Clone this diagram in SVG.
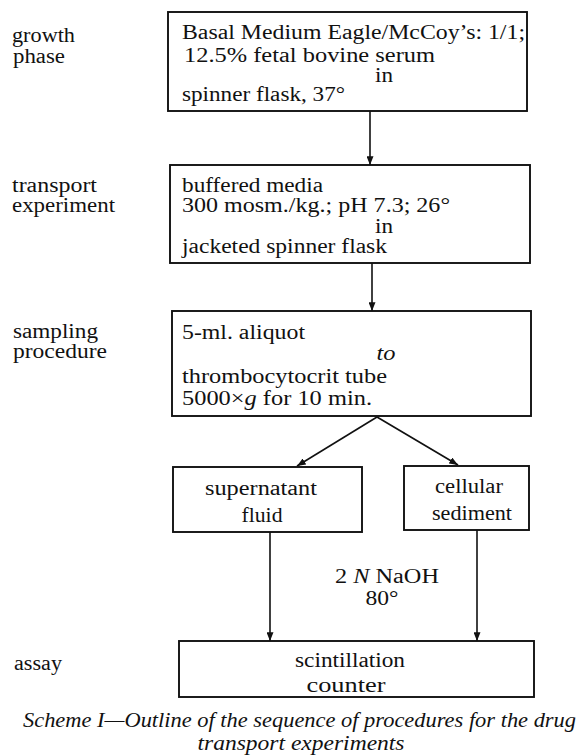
<svg xmlns="http://www.w3.org/2000/svg" width="587" height="756" viewBox="0 0 587 756">
<defs>
<style>
.t{font-family:"Liberation Serif","Times New Roman",serif;font-size:20px;fill:#111}
.i{font-style:italic}
.m{text-anchor:middle}
.box{fill:none;stroke:#111;stroke-width:1.9}
.ln{fill:none;stroke:#111;stroke-width:1.6}
</style>
<marker id="ah" viewBox="0 0 10 8" refX="10" refY="4" markerWidth="9" markerHeight="7" orient="auto" markerUnits="userSpaceOnUse">
<path d="M0,0 L10,4 L0,8 z" fill="#111"/>
</marker>
</defs>
<rect width="587" height="756" fill="#fff"/>

<g id="labels">
<text class="t" x="12" y="42" textLength="63" lengthAdjust="spacingAndGlyphs">growth</text>
<text class="t" x="13" y="63" textLength="52" lengthAdjust="spacingAndGlyphs">phase</text>
<text class="t" x="12" y="192" textLength="85" lengthAdjust="spacingAndGlyphs">transport</text>
<text class="t" x="12" y="212" textLength="103" lengthAdjust="spacingAndGlyphs">experiment</text>
<text class="t" x="13" y="338" textLength="85" lengthAdjust="spacingAndGlyphs">sampling</text>
<text class="t" x="13" y="358" textLength="94" lengthAdjust="spacingAndGlyphs">procedure</text>
<text class="t" x="14" y="670" textLength="48" lengthAdjust="spacingAndGlyphs">assay</text>
</g>

<g id="growth">
<rect class="box" x="168" y="12" width="359" height="99"/>
<text class="t" x="182" y="39" textLength="343" lengthAdjust="spacingAndGlyphs">Basal Medium Eagle/McCoy’s: 1/1;</text>
<text class="t" x="184" y="62" textLength="251" lengthAdjust="spacingAndGlyphs">12.5% fetal bovine serum</text>
<text class="t m" x="384" y="82" textLength="18" lengthAdjust="spacingAndGlyphs">in</text>
<text class="t" x="182" y="101" textLength="163" lengthAdjust="spacingAndGlyphs">spinner flask, 37°</text>
</g>

<g id="transport">
<rect class="box" x="170" y="165" width="360" height="98"/>
<text class="t" x="182" y="192" textLength="141" lengthAdjust="spacingAndGlyphs">buffered media</text>
<text class="t" x="182" y="212" textLength="268" lengthAdjust="spacingAndGlyphs">300 mosm./kg.; pH 7.3; 26°</text>
<text class="t m" x="384" y="233" textLength="18" lengthAdjust="spacingAndGlyphs">in</text>
<text class="t" x="182" y="253" textLength="205" lengthAdjust="spacingAndGlyphs">jacketed spinner flask</text>
</g>

<g id="sampling">
<rect class="box" x="172" y="311" width="359" height="105"/>
<text class="t" x="182" y="339" textLength="123" lengthAdjust="spacingAndGlyphs">5-ml. aliquot</text>
<text class="t i m" x="386" y="360" textLength="19" lengthAdjust="spacingAndGlyphs">to</text>
<text class="t" x="182" y="383" textLength="205" lengthAdjust="spacingAndGlyphs">thrombocytocrit tube</text>
<text class="t" x="182" y="405" textLength="190" lengthAdjust="spacingAndGlyphs">5000×<tspan class="i">g</tspan> for 10 min.</text>
</g>

<g id="supernatant">
<rect class="box" x="173" y="467" width="189" height="65"/>
<text class="t m" x="261" y="495" textLength="112" lengthAdjust="spacingAndGlyphs">supernatant</text>
<text class="t m" x="262" y="522" textLength="41" lengthAdjust="spacingAndGlyphs">fluid</text>
</g>

<g id="sediment">
<rect class="box" x="404" y="466" width="125" height="64"/>
<text class="t m" x="469" y="493" textLength="68" lengthAdjust="spacingAndGlyphs">cellular</text>
<text class="t m" x="472" y="520" textLength="80" lengthAdjust="spacingAndGlyphs">sediment</text>
</g>

<g id="assay">
<rect class="box" x="179" y="641" width="355" height="56"/>
<text class="t m" x="350" y="667" textLength="110" lengthAdjust="spacingAndGlyphs">scintillation</text>
<text class="t m" x="346" y="692" textLength="79" lengthAdjust="spacingAndGlyphs">counter</text>
</g>

<g id="connectors">
<line class="ln" x1="370" y1="111" x2="370" y2="165" marker-end="url(#ah)"/>
<line class="ln" x1="372" y1="263" x2="372" y2="311" marker-end="url(#ah)"/>
<line class="ln" x1="377" y1="417" x2="297" y2="466" marker-end="url(#ah)"/>
<line class="ln" x1="377" y1="417" x2="458" y2="465" marker-end="url(#ah)"/>
<line class="ln" x1="270" y1="532" x2="270" y2="641" marker-end="url(#ah)"/>
<line class="ln" x1="477" y1="530" x2="477" y2="641" marker-end="url(#ah)"/>
<text class="t m" x="387" y="583" textLength="104" lengthAdjust="spacingAndGlyphs">2 <tspan class="i">N</tspan> NaOH</text>
<text class="t m" x="382" y="605" textLength="33" lengthAdjust="spacingAndGlyphs">80°</text>
</g>

<g id="caption">
<text class="t i" x="23" y="727" textLength="553" lengthAdjust="spacingAndGlyphs">Scheme I—Outline of the sequence of procedures for the drug</text>
<text class="t i m" x="301" y="750" textLength="207" lengthAdjust="spacingAndGlyphs">transport experiments</text>
</g>
</svg>
